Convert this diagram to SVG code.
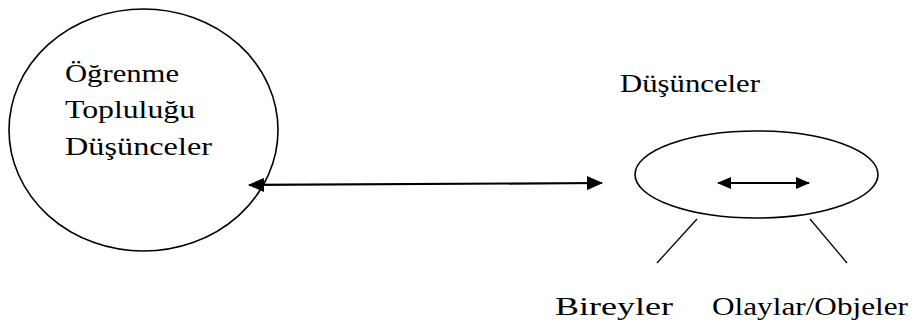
<svg xmlns="http://www.w3.org/2000/svg" width="914" height="324" viewBox="0 0 914 324">
  <style>
    .shape { fill: none; stroke: #000; stroke-width: 1.6; }
    .conn { stroke: #000; stroke-width: 2.2; fill: none; }
    .leg { stroke: #000; stroke-width: 1.3; }
    text { font-family: 'Liberation Serif', 'Times New Roman', Times, serif; font-size: 26px; fill: #000; }
  </style>
  <defs>
    <marker id="head" viewBox="0 0 16 14" refX="15" refY="7" markerWidth="16" markerHeight="14" markerUnits="userSpaceOnUse" orient="auto-start-reverse">
      <path d="M0,0 L16,7 L0,14 Z" fill="#000"/>
    </marker>
    <marker id="headSmall" viewBox="0 0 14 12" refX="13" refY="6" markerWidth="14" markerHeight="12" markerUnits="userSpaceOnUse" orient="auto-start-reverse">
      <path d="M0,0 L14,6 L0,12 Z" fill="#000"/>
    </marker>
  </defs>

  <!-- Learning community circle; labels are widened to fixed lengths -->
  <g id="community">
    <ellipse class="shape" cx="143.5" cy="130" rx="134.5" ry="121"/>
    <text x="65" y="82" textLength="114" lengthAdjust="spacingAndGlyphs">Öğrenme</text>
    <text x="65" y="118" textLength="130" lengthAdjust="spacingAndGlyphs">Topluluğu</text>
    <text x="65" y="155" textLength="147" lengthAdjust="spacingAndGlyphs">Düşünceler</text>
  </g>

  <!-- Ideas ellipse with its heading -->
  <g id="ideas">
    <text x="620" y="92" textLength="140" lengthAdjust="spacingAndGlyphs">Düşünceler</text>
    <ellipse class="shape" cx="756.5" cy="174.5" rx="121.5" ry="43.5"/>
  </g>

  <g id="individuals">
    <text x="555" y="315" textLength="118" lengthAdjust="spacingAndGlyphs">Bireyler</text>
  </g>

  <g id="events">
    <text x="712" y="315" textLength="196" lengthAdjust="spacingAndGlyphs">Olaylar/Objeler</text>
  </g>

  <!-- Connectors -->
  <g id="connectors">
    <line class="conn" x1="249" y1="185" x2="602" y2="183" marker-start="url(#head)" marker-end="url(#head)"/>
    <line class="conn" x1="718" y1="183" x2="809" y2="183" marker-start="url(#headSmall)" marker-end="url(#headSmall)"/>
    <line class="leg" x1="697" y1="219" x2="657" y2="263"/>
    <line class="leg" x1="810" y1="219" x2="847" y2="263"/>
  </g>
</svg>
